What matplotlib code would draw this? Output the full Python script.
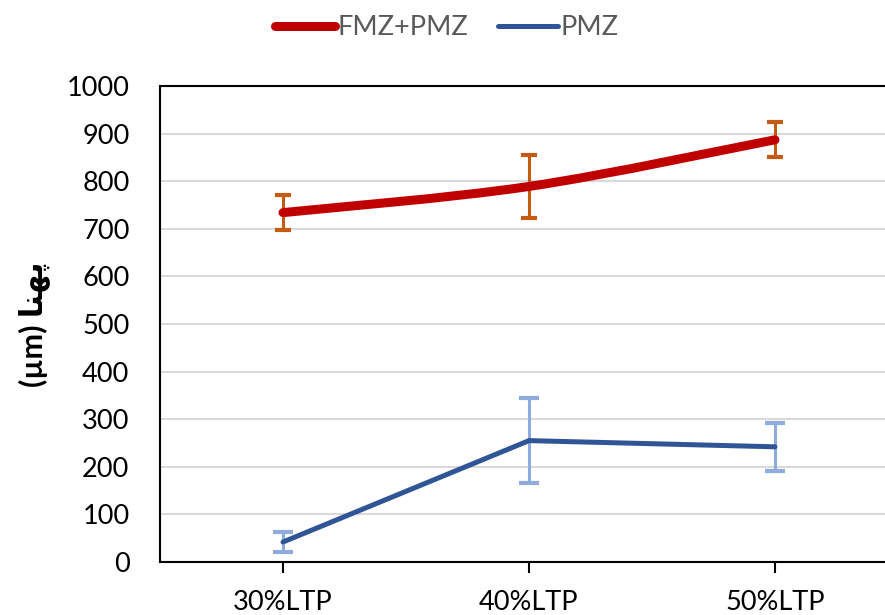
import matplotlib
matplotlib.use('Agg')
import matplotlib.pyplot as plt
from matplotlib.path import Path
from matplotlib.patches import PathPatch
from matplotlib.lines import Line2D
import numpy as np

plt.rcParams['font.family'] = ['Lato', 'DejaVu Sans']

categories = ['30%LTP', '40%LTP', '50%LTP']
fmz_pmz = [734, 789, 887]
fmz_pmz_err = [37, 66, 37]
pmz = [42, 255, 242]
pmz_err = [21, 90, 50]
yticks = [0, 100, 200, 300, 400, 500, 600, 700, 800, 900, 1000]

red = '#C00000'
blue = '#2F5597'
red_err = '#C55A11'
blue_err = '#8FAADC'


def smooth_path(xs, ys, t=1/6):
    # cubic bezier through the points (excel-like smoothed line)
    verts = [(xs[0], ys[0])]
    codes = [Path.MOVETO]
    n = len(xs)
    for i in range(n - 1):
        x0, y0 = xs[max(i - 1, 0)], ys[max(i - 1, 0)]
        x1, y1 = xs[i], ys[i]
        x2, y2 = xs[i + 1], ys[i + 1]
        x3, y3 = xs[min(i + 2, n - 1)], ys[min(i + 2, n - 1)]
        c1 = (x1 + (x2 - x0) * t, y1 + (y2 - y0) * t)
        c2 = (x2 - (x3 - x1) * t, y2 - (y3 - y1) * t)
        verts += [c1, c2, (x2, y2)]
        codes += [Path.CURVE4] * 3
    return Path(verts, codes)


fig = plt.figure(figsize=(8.85, 6.15), dpi=100)
ax = fig.add_axes([160/885, 53/615, 738/885, 476/615])

x = np.arange(len(categories))

ax.errorbar(x, fmz_pmz, yerr=fmz_pmz_err, fmt='none', ecolor=red_err,
            elinewidth=2.2, capsize=6, capthick=3, zorder=3)
ax.errorbar(x, pmz, yerr=pmz_err, fmt='none', ecolor=blue_err,
            elinewidth=2.2, capsize=7, capthick=3, zorder=3)

ax.add_patch(PathPatch(smooth_path(x, fmz_pmz), facecolor='none', edgecolor=red,
                       lw=6.5, capstyle='round', joinstyle='round', zorder=4))
ax.plot(x, pmz, color=blue, lw=3.6, solid_capstyle='round', zorder=4)

ax.set_xlim(-0.5, 2.5)
ax.set_ylim(0, 1000)
ax.set_xticks(x)
ax.set_xticklabels(categories)
ax.set_yticks(yticks)
ax.yaxis.grid(True, color='#D9D9D9', lw=1.5)
ax.set_axisbelow(True)

for s in ax.spines.values():
    s.set_color('black')
    s.set_linewidth(1.5)

ax.tick_params(axis='x', length=8, width=1.5, direction='out', labelsize=19.5, pad=12)
ax.tick_params(axis='y', length=0, labelsize=19.5, pad=22)

# y label: "(µm) پهنا" with arabic presentation forms in visual order
ax.set_ylabel('(µm) \uFE8E\uFEE8\uFEEC\uFB58', fontsize=22, fontweight='bold', labelpad=12)

handles = [Line2D([], [], color=red, lw=6.5, solid_capstyle='round'),
           Line2D([], [], color=blue, lw=3.6, solid_capstyle='round')]
fig.legend(handles, ['FMZ+PMZ', 'PMZ'], loc='center', bbox_to_anchor=(0.505, 0.955),
           ncol=2, frameon=False, fontsize=19.5, labelcolor='#595959',
           handlelength=2.2, handletextpad=0.1, columnspacing=1.1)

fig.savefig('out.png', dpi=100)
